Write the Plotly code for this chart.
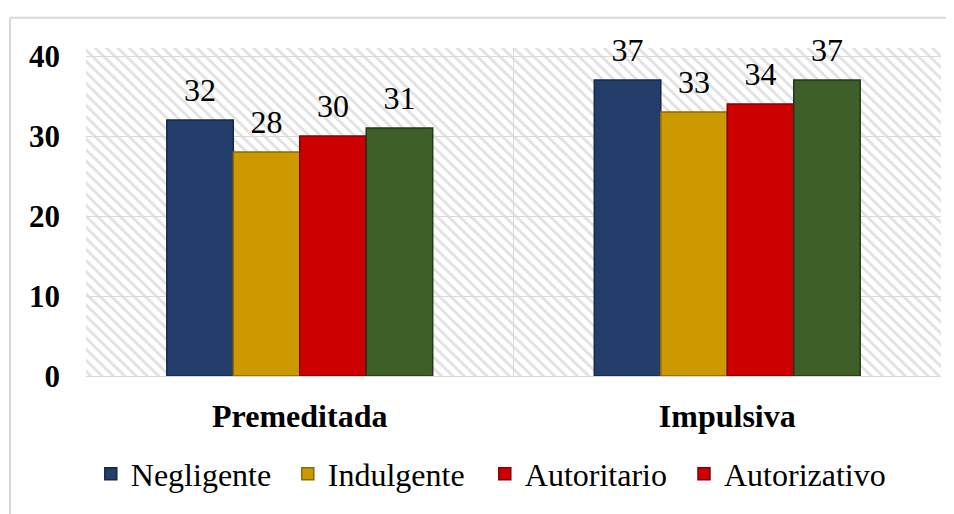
import base64
import plotly.graph_objects as go

categories = ["Premeditada", "Impulsiva"]
series_names = ["Negligente", "Indulgente", "Autoritario", "Autorizativo"]
negligente = [32, 37]
indulgente = [28, 33]
autoritario = [30, 34]
autorizativo = [31, 37]
y_ticks = [0, 10, 20, 30, 40]

values = [negligente, indulgente, autoritario, autorizativo]
colors = ["#233E6A", "#CC9900", "#CC0000", "#3E5F27"]
edge = ["#15284A", "#8C6A00", "#8A0000", "#22381A"]
legend_colors = ["#233E6A", "#CC9900", "#CC0000", "#CC0000"]

FONT = "Liberation Serif"

fig = go.Figure()

for i, (name, vals) in enumerate(zip(series_names, values)):
    fig.add_trace(go.Bar(
        x=categories, y=vals, name=name, offsetgroup=str(i),
        marker=dict(color=colors[i], line=dict(color=edge[i], width=1.5)),
        showlegend=(i < 3), legendrank=i,
    ))

# legend entry for the 4th series (the reference shows a red swatch)
fig.add_trace(go.Bar(
    x=[categories[0]], y=[None], name=series_names[3], offsetgroup="3",
    marker=dict(color=legend_colors[3], line=dict(color=edge[2], width=1.5)),
    showlegend=True, legend="legend2",
))

for i, vals in enumerate(values):
    fig.add_trace(go.Scatter(
        x=categories, y=vals, mode="markers+text", offsetgroup=str(i),
        text=[str(v) for v in vals], textposition="top center",
        textfont=dict(family=FONT, size=32, color="black"),
        marker=dict(size=16, opacity=0), showlegend=False, hoverinfo="skip",
        cliponaxis=False,
    ))

# hatched plot-area background
svg = (
    '<svg xmlns="http://www.w3.org/2000/svg" width="855" height="335">'
    '<defs><pattern id="h" width="8" height="8" patternUnits="userSpaceOnUse" '
    'patternTransform="rotate(45)">'
    '<rect width="8" height="8" fill="white"/>'
    '<rect width="8" height="3" fill="#E3E3E3"/></pattern></defs>'
    '<rect width="855" height="335" fill="url(#h)"/></svg>'
)
uri = "data:image/svg+xml;base64," + base64.b64encode(svg.encode()).decode()
fig.add_layout_image(dict(
    source=uri, xref="paper", yref="paper", x=0, y=1, sizex=1, sizey=1,
    sizing="stretch", xanchor="left", yanchor="top", layer="below",
))

# outer chart border (top and left visible)
fig.add_shape(type="line", xref="paper", yref="paper",
              x0=-0.0889, x1=1.2, y0=1.0925, y1=1.0925,
              line=dict(color="#D9D9D9", width=2))
fig.add_shape(type="line", xref="paper", yref="paper",
              x0=-0.0889, x1=-0.0889, y0=1.0925, y1=-0.45,
              line=dict(color="#D9D9D9", width=2))

legend_font = dict(family=FONT, size=32, color="black")

fig.update_layout(
    width=946, height=506,
    margin=dict(l=78, r=13, t=40, b=131),
    paper_bgcolor="white", plot_bgcolor="rgba(0,0,0,0)",
    barmode="group", bargap=0.378, bargroupgap=0,
    scattermode="group",
    font=dict(family=FONT, color="black"),
    legend=dict(
        orientation="h", x=0.0056, xanchor="left", y=-0.2986, yanchor="middle",
        font=legend_font, itemwidth=30, traceorder="normal",
        entrywidth=152, entrywidthmode="pixels",
    ),
    legend2=dict(
        orientation="h", x=0.6994, xanchor="left", y=-0.2986, yanchor="middle",
        font=legend_font, itemwidth=30,
    ),
    xaxis=dict(
        type="category", tickson="boundaries", showgrid=True,
        gridcolor="#D9D9D9", gridwidth=1, ticks="", showline=True,
        linecolor="#D9D9D9", linewidth=1,
        tickfont=dict(family=FONT, size=32, color="black", weight="bold"),
        ticklabelstandoff=12,
    ),
    yaxis=dict(
        range=[0, 41], tickvals=y_ticks, showgrid=True, gridcolor="#D9D9D9",
        gridwidth=1, zeroline=False, ticks="",
        tickfont=dict(family=FONT, size=31, color="black", weight="bold"),
        ticklabelstandoff=25,
    ),
)

fig.write_html("out.html")
